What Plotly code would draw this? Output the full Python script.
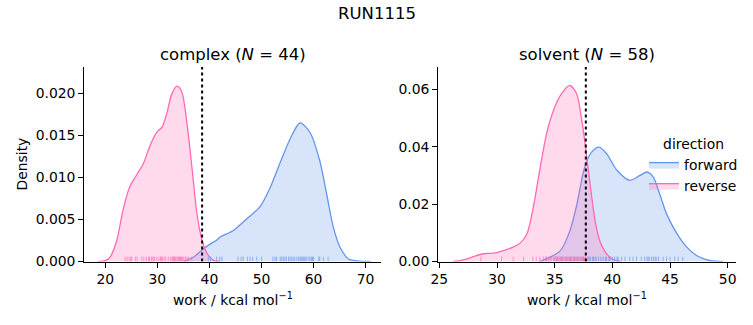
import plotly.graph_objects as go

# ---------------- data ----------------
suptitle = "RUN1115"
panels = ["complex", "solvent"]
n_counts = [44, 58]
directions = ["forward", "reverse"]

# KDE curves: complex
cx_fwd_x = [35.0, 36.9, 38.8, 40.2, 41.5, 42.0, 44.6, 47.2, 49.7, 51.6, 53.6, 55.5, 57.4, 59.3, 61.2, 62.5, 63.8, 65.1, 66.7, 68.9, 71.0]
cx_fwd_y = [0.0, 0.0005, 0.0015, 0.0021, 0.0026, 0.0029, 0.0037, 0.0051, 0.0065, 0.0087, 0.0118, 0.0146, 0.0165, 0.0154, 0.0120, 0.0081, 0.0041, 0.0017, 0.0003, 0.00005, 0.0]
cx_rev_x = [18.6, 20.0, 20.9, 22.2, 23.4, 24.7, 26.0, 27.3, 28.6, 29.9, 30.9, 31.8, 32.8, 33.8, 34.7, 35.7, 36.7, 37.6, 38.6, 39.6, 40.9, 42.0]
cx_rev_y = [0.0, 0.0001, 0.0005, 0.0025, 0.0061, 0.0089, 0.0103, 0.01165, 0.0138, 0.0154, 0.0160, 0.0176, 0.0200, 0.0209, 0.0202, 0.0164, 0.0109, 0.0057, 0.0025, 0.0009, 0.0001, 0.0]

# KDE curves: solvent
sv_fwd_x = [33.7, 34.6, 35.5, 36.3, 36.9, 37.6, 38.2, 38.85, 39.5, 40.4, 41.5, 42.4, 43.0, 43.55, 44.1, 44.7, 45.6, 46.45, 47.3, 48.2, 49.05, 49.6]
sv_fwd_y = [0.0, 0.0015, 0.0038, 0.0105, 0.0195, 0.0329, 0.0381, 0.0399, 0.0376, 0.0318, 0.0283, 0.0300, 0.0312, 0.0294, 0.0236, 0.0166, 0.0097, 0.0050, 0.0021, 0.0006, 0.0001, 0.0]
sv_rev_x = [26.2, 27.1, 27.95, 28.8, 29.7, 30.55, 31.4, 32.0, 32.6, 33.15, 33.7, 34.3, 34.9, 35.5, 36.3, 36.9, 37.35, 37.6, 38.1, 38.5, 38.9, 39.5, 40.1, 40.7]
sv_rev_y = [0.0, 0.0006, 0.0017, 0.0027, 0.0029, 0.0038, 0.0050, 0.0064, 0.0097, 0.0190, 0.0318, 0.0446, 0.0527, 0.0579, 0.0614, 0.0585, 0.0492, 0.0422, 0.0259, 0.0143, 0.0073, 0.0027, 0.0006, 0.0]

# rug (individual work values)
cx_fwd_rug = [39.8, 40.2, 41.4, 42.0, 42.4, 45.5, 46.1, 46.5, 47.3, 47.8, 48.3, 49.1, 50.0, 52.2, 52.6, 52.9, 53.6, 53.9, 54.2, 54.5, 54.8, 55.2, 55.5, 55.8, 56.1, 56.4, 56.8, 57.1, 57.4, 57.6, 57.8, 58.0, 58.2, 58.4, 58.7, 59.1, 59.3, 59.6, 59.8, 60.0, 61.0, 61.2, 61.9, 62.8]
cx_rev_rug = [23.8, 24.2, 24.6, 24.9, 25.1, 25.8, 26.1, 27.0, 27.4, 27.9, 28.3, 28.5, 28.9, 29.0, 29.3, 29.5, 29.9, 30.3, 30.6, 30.8, 31.0, 31.3, 31.6, 32.1, 32.5, 32.8, 33.0, 33.1, 33.3, 33.4, 33.6, 33.8, 34.0, 34.2, 34.3, 34.4, 34.6, 34.7, 34.9, 35.1, 35.4, 35.7, 36.0, 36.6]
sv_fwd_rug = [35.2, 35.6, 36.0, 36.4, 36.7, 37.0, 37.3, 37.5, 37.7, 37.9, 38.1, 38.3, 38.35, 38.5, 38.6, 38.8, 39.0, 39.2, 39.4, 39.5, 39.7, 39.8, 40.0, 40.2, 40.4, 40.5, 40.8, 41.1, 41.5, 41.8, 42.1, 42.5, 42.8, 43.0, 43.1, 43.2, 43.4, 43.55, 43.7, 43.8, 44.0, 44.4, 44.7, 45.0, 45.4, 45.7, 46.1]
sv_rev_rug = [28.6, 30.4, 31.4, 32.3, 33.1, 33.4, 33.7, 34.0, 34.2, 34.3, 34.45, 34.6, 34.7, 34.9, 35.0, 35.1, 35.2, 35.3, 35.4, 35.5, 35.6, 35.7, 35.8, 35.9, 36.0, 36.1, 36.2, 36.3, 36.35, 36.4, 36.5, 36.6, 36.7, 36.8, 36.9, 37.0, 37.1, 37.2, 37.3, 37.4, 37.5, 37.6, 37.8, 38.0]

# mean-work reference lines
vline_x = [38.6, 37.7]

# axis tick values / labels
cx_xticks = [20, 30, 40, 50, 60, 70]
sv_xticks = [25, 30, 35, 40, 45, 50]
cx_yticks = [0.0, 0.005, 0.010, 0.015, 0.020]
sv_yticks = [0.0, 0.02, 0.04, 0.06]

# ---------------- styling ----------------
W, H = 753, 325
FONT = "DejaVu Sans"
COLORS = {"forward": "#6495ED", "reverse": "#FF69B4"}
FILLS = {"forward": "rgba(100,149,237,0.25)", "reverse": "rgba(255,105,180,0.25)"}
RUG_COL = {"forward": "rgba(100,149,237,0.65)", "reverse": "rgba(255,105,180,0.65)"}
x_ranges = [[15.97, 72.96], [24.91, 50.72]]
y_ranges = [[0.0, 0.02317], [0.0, 0.0678]]
RUG_FRAC = 0.025

def px(x0, x1):
    return [x0 / W, x1 / W]

def py(ytop, ybot):
    return [(H - ybot) / H, (H - ytop) / H]

x_domains = [px(84.3, 381), px(438.3, 736)]
y_domain = py(67, 261.5)

fig = go.Figure()

curves = [
    [(cx_fwd_x, cx_fwd_y, cx_fwd_rug), (cx_rev_x, cx_rev_y, cx_rev_rug)],
    [(sv_fwd_x, sv_fwd_y, sv_fwd_rug), (sv_rev_x, sv_rev_y, sv_rev_rug)],
]

for p in range(2):
    xa = "x" if p == 0 else "x2"
    ya = "y" if p == 0 else "y2"
    for d, (kx, ky, rug) in zip(directions, curves[p]):
        fig.add_trace(go.Scatter(
            x=kx, y=ky, mode="lines", xaxis=xa, yaxis=ya,
            line=dict(color=COLORS[d], width=1.3, shape="spline", smoothing=0.8),
            fill="tozeroy", fillcolor=FILLS[d],
            name=d, legendgroup=d, showlegend=False,
            hoverinfo="skip",
        ))
    for d, (kx, ky, rug) in zip(directions, curves[p]):
        h = RUG_FRAC * y_ranges[p][1]
        rx, ry = [], []
        for v in rug:
            rx += [v, v, None]
            ry += [0, h, None]
        fig.add_trace(go.Scatter(
            x=rx, y=ry, mode="lines", xaxis=xa, yaxis=ya,
            line=dict(color=RUG_COL[d], width=1),
            showlegend=False, legendgroup=d, hoverinfo="skip",
        ))
    fig.add_trace(go.Scatter(
        x=[vline_x[p], vline_x[p]], y=[y_ranges[p][0], y_ranges[p][1]],
        mode="lines", xaxis=xa, yaxis=ya,
        line=dict(color="black", width=2, dash="dot"),
        showlegend=False, hoverinfo="skip",
    ))

# legend-only entries (rectangular patches)
for d in directions:
    fig.add_trace(go.Scatter(
        x=[None], y=[None], mode="lines", xaxis="x2", yaxis="y2",
        fill="toself", fillcolor=FILLS[d], line=dict(color=COLORS[d], width=1.3),
        name=d, legendgroup=d, showlegend=True, hoverinfo="skip",
    ))

axis_common = dict(
    showline=True, linecolor="black", linewidth=1.1, mirror=False,
    ticks="outside", ticklen=5, tickwidth=1.1, tickcolor="black",
    showgrid=False, zeroline=False, automargin=False,
    tickfont=dict(family=FONT, size=13.9, color="black"),
)

fig.update_layout(
    template="none",
    width=W, height=H,
    margin=dict(l=0, r=0, t=0, b=0, pad=0, autoexpand=False),
    paper_bgcolor="white", plot_bgcolor="white",
    font=dict(family=FONT, color="black"),
    xaxis=dict(domain=x_domains[0], range=x_ranges[0], tickvals=cx_xticks, anchor="y", **axis_common),
    yaxis=dict(domain=y_domain, range=y_ranges[0], tickvals=cx_yticks, tickformat=".3f", anchor="x", **axis_common),
    xaxis2=dict(domain=x_domains[1], range=x_ranges[1], tickvals=sv_xticks, anchor="y2", **axis_common),
    yaxis2=dict(domain=y_domain, range=y_ranges[1], tickvals=sv_yticks, tickformat=".2f", anchor="x2", **axis_common),
    legend=dict(
        x=644 / W, y=(H - 131) / H, xanchor="left", yanchor="top",
        bgcolor="rgba(0,0,0,0)", borderwidth=0,
        font=dict(family=FONT, size=13.9, color="black"),
        title=dict(text="direction", side="top center", font=dict(family=FONT, size=13.9, color="black")),
        itemwidth=30, tracegroupgap=0,
    ),
    showlegend=True,
)

ann = []
ann.append(dict(text=suptitle, x=376.5 / W, y=(H - 13) / H, xref="paper", yref="paper",
                showarrow=False, xanchor="center", yanchor="middle",
                font=dict(family=FONT, size=16.5, color="black")))
centers = [(84.3 + 381) / 2, (438.3 + 736) / 2]
for p in range(2):
    ann.append(dict(text=f"{panels[p]} (<i>N</i> = {n_counts[p]})", x=centers[p] / W, y=(H - 54) / H,
                    xref="paper", yref="paper", showarrow=False, xanchor="center", yanchor="middle",
                    font=dict(family=FONT, size=16.5, color="black")))
    ann.append(dict(text="work / kcal mol<sup>−1</sup>", x=centers[p] / W, y=(H - 299) / H,
                    xref="paper", yref="paper", showarrow=False, xanchor="center", yanchor="middle",
                    font=dict(family=FONT, size=13.9, color="black")))
ann.append(dict(text="Density", x=21.5 / W, y=(H - 164) / H, xref="paper", yref="paper",
                showarrow=False, xanchor="center", yanchor="middle", textangle=-90,
                font=dict(family=FONT, size=13.9, color="black")))
fig.update_layout(annotations=ann)

fig.write_html("out.html")
